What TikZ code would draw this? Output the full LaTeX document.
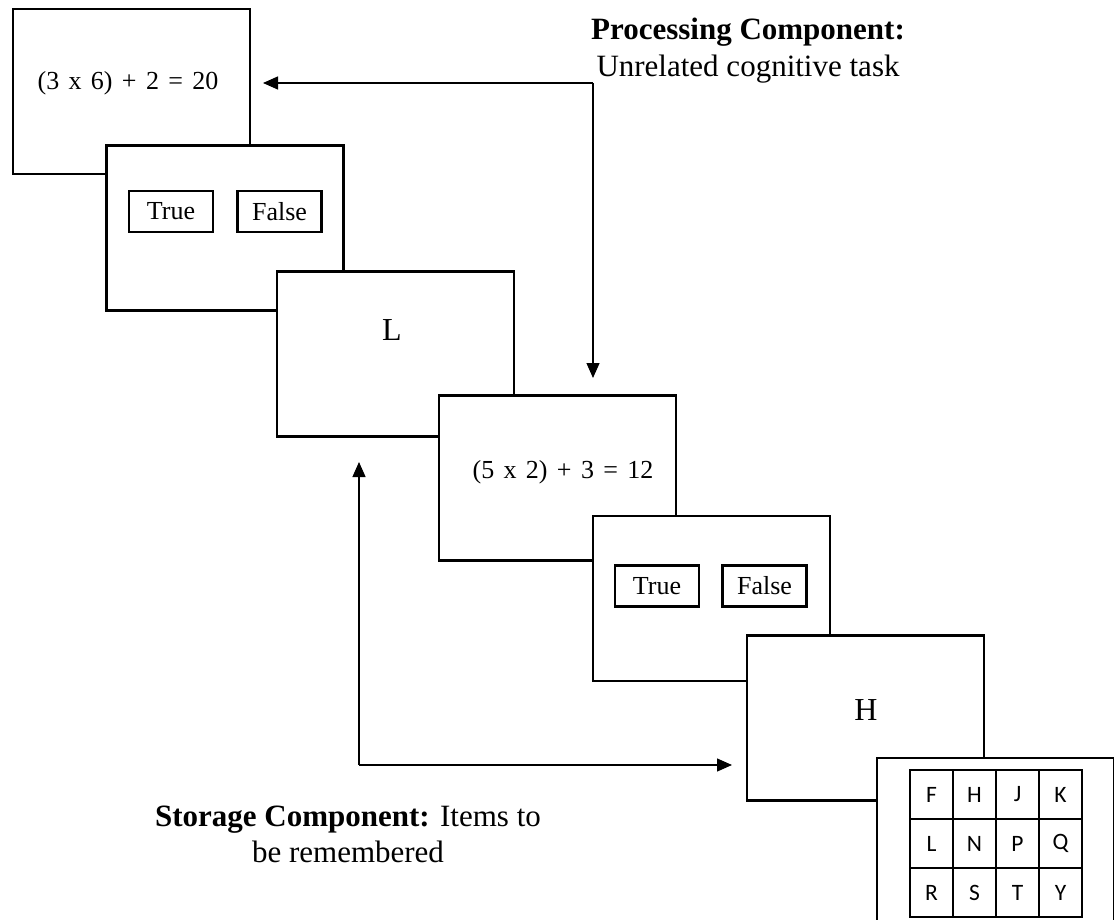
\documentclass[tikz,border=0pt]{standalone}
\usepackage{fontspec}
\setmainfont{Liberation Serif}
\newfontfamily\gridfont{Carlito}
\usetikzlibrary{arrows.meta}
\newcommand\myeqfont{\fontsize{26}{31}\selectfont\spaceskip 0.36em\relax}
\begin{document}
\begin{tikzpicture}[x=1pt,y=-1pt,
  screen/.style={draw, line width=2.6pt, fill=white, inner sep=0pt,
    minimum width=237pt, minimum height=165pt},
  eqtext/.style={inner sep=0pt, font=\myeqfont},
  btn/.style={draw, line width=2.4pt, fill=white, inner sep=0pt,
    minimum width=84pt, minimum height=41pt, font=\fontsize{26}{31}\selectfont},
  letter/.style={inner sep=0pt, font=\fontsize{32}{38}\selectfont},
  cell/.style={draw, line width=1.9pt, inner sep=0pt, minimum width=43pt,
    minimum height=49pt, font=\gridfont\fontsize{23.5}{28}\selectfont},
  lbl/.style={inner sep=0pt, anchor=base, font=\fontsize{31}{37}\selectfont},
  conn/.style={line width=1.3pt, -{Triangle[length=15pt,width=13pt]}}
]
\useasboundingbox (0,0) rectangle (1114,920);
\clip (0,0) rectangle (1114,920);

% screen 1
\node[screen] (s1) at (131.5,91.5) {};
\node[eqtext] (e1) at (128,83) {(3 x 6) + 2 = 20};
% screen 2
\node[screen] (s2) at (225,228) {};
\node[btn] (t1) at (171,211.5) {True};
\node[btn] (f1) at (279.5,211.5) {False};
% screen 3
\node[screen] (s3) at (395.5,354) {};
\node[letter] (l1) at (392,330) {L};
% screen 4
\node[screen] (s4) at (557.5,478) {};
\node[eqtext] (e2) at (563,472) {(5 x 2) + 3 = 12};
% screen 5
\node[screen] (s5) at (711.5,598.5) {};
\node[btn] (t2) at (657,586) {True};
\node[btn] (f2) at (764.5,586) {False};
% screen 6
\node[screen] (s6) at (865.5,718) {};
\node[letter] (h1) at (866,710) {H};
% screen 7 with letter grid
\node[screen] (s7) at (995.5,840.5) {};
\foreach \t [count=\i from 0] in {F,H,J,K}
  \node[cell] (g1-\i) at (931.5+43*\i,794.5) {\t};
\foreach \t [count=\i from 0] in {L,N,P,Q}
  \node[cell] (g2-\i) at (931.5+43*\i,843.5) {\t};
\foreach \t [count=\i from 0] in {R,S,T,Y}
  \node[cell] (g3-\i) at (931.5+43*\i,892.5) {\t};

% labels
\node[lbl] (p1) at (748,40) {\textbf{Processing Component:}};
\node[lbl] (p2) at (748,77) {Unrelated cognitive task};
\node[lbl] (q1) at (348,826) {\textbf{Storage Component:} Items to};
\node[lbl] (q2) at (348,862) {be remembered};

% connectors
\coordinate (pc) at (593,83);
\coordinate (pa) at (263,83);
\coordinate (pb) at (593,378);
\draw[conn] (pc) -- (pa);
\draw[conn] (pc) -- (pb);
\coordinate (qc) at (359,765);
\coordinate (qa) at (359,462);
\coordinate (qb) at (732,765);
\draw[conn] (qc) -- (qa);
\draw[conn] (qc) -- (qb);
\end{tikzpicture}
\end{document}
